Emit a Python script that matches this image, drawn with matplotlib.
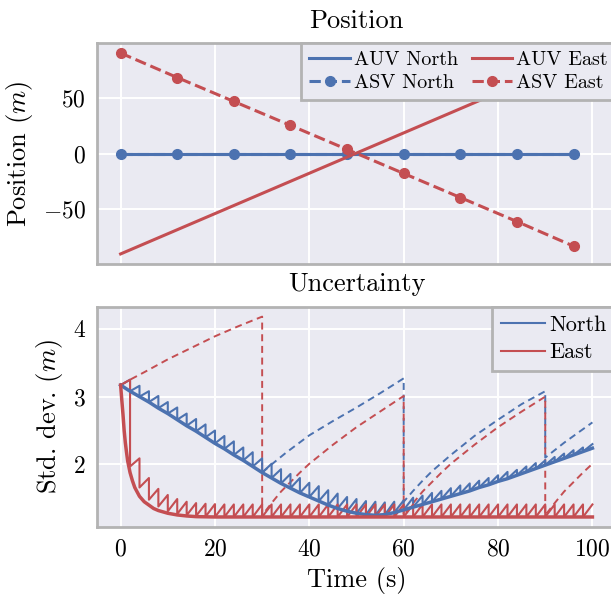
import numpy as np
import matplotlib
matplotlib.use('Agg')
import matplotlib.pyplot as plt

plt.rcParams.update({
    'font.family': 'serif',
    'font.serif': ['cmr10'],
    'mathtext.fontset': 'cm',
    'axes.formatter.use_mathtext': True,
    'axes.facecolor': '#EAEAF2',
    'axes.edgecolor': '#b3b3b3',
    'axes.linewidth': 2.0,
    'grid.color': 'white',
    'grid.linewidth': 1.4,
    'xtick.major.size': 0,
    'ytick.major.size': 0,
    'xtick.major.pad': 8,
    'ytick.major.pad': 8,
    'xtick.labelsize': 17,
    'ytick.labelsize': 17,
    'axes.labelsize': 19,
    'axes.titlesize': 19,
})

BLUE = '#4C72B0'
RED = '#C44E52'

# ---- position panel ----
auv_t = [0, 24, 48, 72, 96]
auv_north = [0, 0, 0, 0, 0]
auv_east = [-90, -46.5, -3, 40.5, 84]

asv_t = [0, 12, 24, 36, 48, 60, 72, 84, 96]
asv_north = [0, 0, 0, 0, 0, 0, 0, 0, 0]
asv_east = [90.5, 68.5, 47.0, 25.5, 3.9, -17.7, -39.3, -60.9, -83.0]

# ---- uncertainty panel ----
meas_t = list(range(0, 101, 2))  # range measurement every 2 s

# std after each update (north), also drawn as the thick curve
north_post = [3.17, 3.08, 3.00, 2.92, 2.83, 2.75, 2.66, 2.57, 2.49, 2.40,
              2.31, 2.23, 2.14, 2.06, 1.97, 1.88, 1.80, 1.72, 1.65, 1.58,
              1.52, 1.46, 1.40, 1.35, 1.31, 1.28, 1.26, 1.25, 1.26, 1.29,
              1.33, 1.37, 1.41, 1.45, 1.49, 1.53, 1.57, 1.61, 1.66, 1.70,
              1.75, 1.79, 1.84, 1.89, 1.94, 1.99, 2.04, 2.09, 2.14, 2.19,
              2.24]
# std just before the next update (north)
north_prior = [3.25, 3.16, 3.08, 3.01, 2.92, 2.84, 2.75, 2.67, 2.59, 2.50,
               2.42, 2.34, 2.25, 2.18, 2.09, 2.01, 1.93, 1.86, 1.80, 1.73,
               1.68, 1.62, 1.57, 1.52, 1.49, 1.46, 1.45, 1.44, 1.45, 1.47,
               1.51, 1.54, 1.58, 1.61, 1.65, 1.69, 1.72, 1.76, 1.80, 1.84,
               1.89, 1.92, 1.97, 2.02, 2.06, 2.11, 2.16, 2.21, 2.25, 2.30]

east_post = [3.17, 1.97, 1.66, 1.48, 1.38, 1.31, 1.27, 1.25, 1.24, 1.23] + [1.225] * 41
east_prior = [3.25, 2.09, 1.80, 1.64, 1.55, 1.49, 1.45, 1.43, 1.42, 1.415] + [1.41] * 40

east_smooth_t = [0, 0.25, 0.5, 0.75, 1.0, 1.25, 1.5, 2, 2.5, 3, 4, 5, 6, 7, 8,
                 9, 10, 12, 14, 16, 20, 100]
east_smooth = [3.17, 2.95, 2.74, 2.50, 2.32, 2.18, 2.05, 1.88, 1.76, 1.66,
               1.53, 1.45, 1.40, 1.35, 1.32, 1.30, 1.28, 1.255, 1.24, 1.23,
               1.225, 1.225]

# dead-reckoning growth between ASV fixes (every 30 s)
north_dr_t = [30, 32, 35, 40, 45, 50, 55, 60,
              60, 62, 64, 66, 68, 70, 75, 80, 85, 90,
              90, 92, 94, 96, 98, 100]
north_dr = [1.88, 2.00, 2.17, 2.43, 2.64, 2.84, 3.05, 3.27,
            1.45, 1.61, 1.76, 1.90, 2.02, 2.14, 2.42, 2.66, 2.89, 3.08,
            2.10, 2.21, 2.32, 2.42, 2.52, 2.62]
east_dr_t = [0, 2, 5, 10, 15, 20, 25, 30,
             30, 32, 34, 36, 38, 40, 45, 50, 55, 60,
             60, 62, 64, 66, 68, 70, 75, 80, 85, 90,
             90, 92, 94, 96, 98, 100]
east_dr = [3.17, 3.25, 3.36, 3.55, 3.72, 3.89, 4.04, 4.18,
           1.25, 1.43, 1.60, 1.74, 1.88, 2.01, 2.29, 2.55, 2.78, 3.01,
           1.25, 1.43, 1.60, 1.74, 1.88, 2.01, 2.29, 2.55, 2.78, 3.00,
           1.25, 1.43, 1.60, 1.74, 1.88, 2.01]


def sawtooth(times, post, prior):
    xs, ys = [], []
    for k in range(len(prior)):
        xs += [times[k], times[k + 1]]
        ys += [post[k], prior[k]]
    return xs, ys


fig = plt.figure(figsize=(6.11, 5.94), dpi=100)
ax1 = fig.add_axes([0.1588, 0.5556, 0.8494, 0.372])
ax2 = fig.add_axes([0.1588, 0.1128, 0.8494, 0.371], sharex=ax1)

ax1.plot(auv_t, auv_north, color=BLUE, lw=2.2, label='AUV North')
ax1.plot(asv_t, asv_north, '--o', color=BLUE, lw=2.2, ms=7, label='ASV North')
ax1.plot(auv_t, auv_east, color=RED, lw=2.2, label='AUV East')
ax1.plot(asv_t, asv_east, '--o', color=RED, lw=2.2, ms=7, label='ASV East')
ax1.set_title('Position', pad=11)
ax1.set_ylabel('Position ($m$)', labelpad=6)
ax1.tick_params(labelbottom=False)
ax1.grid(True)
ax1.set_axisbelow(True)
leg1 = ax1.legend(ncol=2, loc='upper right', borderaxespad=0, fontsize=14.5,
                  handletextpad=0.2, columnspacing=0.7, labelspacing=0.25,
                  fancybox=False, edgecolor='#b3b3b3', facecolor='#EAEAF2',
                  framealpha=1)
leg1.get_frame().set_linewidth(2)

ax2.plot(north_dr_t, north_dr, '--', color=BLUE, lw=1.4, dashes=(3.6, 2.4))
ax2.plot(east_dr_t, east_dr, '--', color=RED, lw=1.4, dashes=(3.6, 2.4))
nx, ny = sawtooth(meas_t, north_post, north_prior)
ex, ey = sawtooth(meas_t, east_post, east_prior)
ax2.plot(nx, ny, color=BLUE, lw=1.5, label='North')
ax2.plot(ex, ey, color=RED, lw=1.5, label='East')
ax2.plot(meas_t, north_post, color=BLUE, lw=2.5)
ax2.plot(east_smooth_t, east_smooth, color=RED, lw=2.5)
ax2.set_title('Uncertainty', pad=11)
ax2.set_ylabel('Std. dev. ($m$)', labelpad=6)
ax2.set_xlabel('Time (s)', labelpad=5)
ax2.set_yticks([2, 3, 4])
ax2.set_xticks([0, 20, 40, 60, 80, 100])
ax2.grid(True)
ax2.set_axisbelow(True)
leg2 = ax2.legend(loc='upper right', borderaxespad=0, fontsize=16,
                  handletextpad=0.2, labelspacing=0.35,
                  fancybox=False, edgecolor='#b3b3b3', facecolor='#EAEAF2',
                  framealpha=1)
leg2.get_frame().set_linewidth(2)

fig.savefig('out.png', dpi=100)
